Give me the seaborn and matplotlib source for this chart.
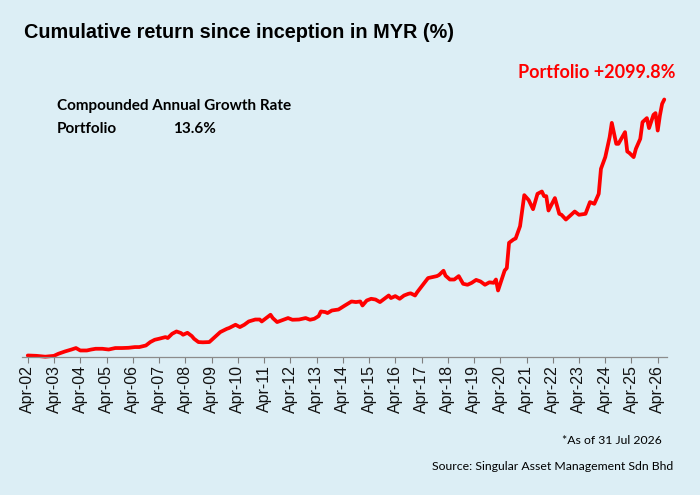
import pandas as pd
import seaborn as sns
import matplotlib.pyplot as plt
import matplotlib.dates as mdates

# cumulative return (%)
months = ['2002-04', '2002-08', '2002-12', '2003-04', '2003-06', '2003-09', '2003-12',
          '2004-02', '2004-04', '2004-07', '2004-09', '2004-11', '2005-02', '2005-05',
          '2005-08', '2005-11', '2006-02', '2006-05', '2006-07', '2006-10', '2006-12',
          '2007-02', '2007-04', '2007-07', '2007-08', '2007-10', '2007-12', '2008-02',
          '2008-03', '2008-05', '2008-07', '2008-08', '2008-10', '2008-12', '2009-03',
          '2009-05', '2009-08', '2009-11', '2009-12', '2010-03', '2010-05', '2010-07',
          '2010-09', '2010-12', '2011-02', '2011-03', '2011-05', '2011-07', '2011-08',
          '2011-10', '2011-12', '2012-03', '2012-05', '2012-08', '2012-11', '2013-01',
          '2013-03', '2013-05', '2013-06', '2013-08', '2013-09', '2013-11', '2014-02',
          '2014-05', '2014-08', '2014-10', '2014-12', '2015-01', '2015-03', '2015-05',
          '2015-07', '2015-09', '2015-11', '2016-01', '2016-02', '2016-04', '2016-06',
          '2016-08', '2016-10', '2016-11', '2017-01', '2017-02', '2017-05', '2017-07',
          '2017-09', '2017-11', '2017-12', '2018-02', '2018-03', '2018-05', '2018-07',
          '2018-09', '2018-11', '2019-01', '2019-03', '2019-05', '2019-07', '2019-09',
          '2019-11', '2020-01', '2020-02', '2020-03', '2020-06', '2020-07', '2020-08',
          '2020-10', '2020-11', '2021-01', '2021-03', '2021-05', '2021-07', '2021-09',
          '2021-11', '2021-12', '2022-01', '2022-02', '2022-05', '2022-07', '2022-08',
          '2022-10', '2022-12', '2023-02', '2023-04', '2023-07', '2023-09', '2023-11',
          '2024-01', '2024-02', '2024-04', '2024-06', '2024-07', '2024-09', '2024-10',
          '2025-01', '2025-02', '2025-03', '2025-05', '2025-06', '2025-08', '2025-09',
          '2025-11', '2025-12', '2026-02', '2026-03', '2026-04', '2026-05', '2026-06',
          '2026-07']
portfolio = [0, -3, -10, -3, 14, 33, 49,
             61, 41, 41, 49, 55, 55, 49,
             61, 61, 63, 69, 69, 82, 110,
             129, 137, 151, 143, 178, 197, 184,
             170, 186, 159, 137, 110, 108, 110,
             143, 192, 219, 225, 252, 233, 252,
             279, 295, 295, 279, 307, 334, 307,
             274, 287, 307, 293, 295, 307, 293,
             301, 323, 361, 356, 348, 369, 377,
             410, 443, 438, 443, 410, 451, 465,
             459, 438, 465, 492, 471, 487, 465,
             492, 506, 510, 492, 520, 588, 635,
             643, 651, 660, 695, 655, 623, 623,
             651, 588, 580, 596, 620, 607, 580,
             600, 596, 623, 533, 697, 717, 924,
             951, 960, 1060, 1315, 1275, 1200, 1326,
             1345, 1307, 1307, 1189, 1291, 1162, 1154,
             1115, 1148, 1181, 1154, 1162, 1258, 1244,
             1326, 1531, 1627, 1791, 1908, 1736, 1736,
             1832, 1673, 1662, 1627, 1695, 1777, 1914,
             1947, 1865, 1974, 1988, 1845, 1968, 2064,
             2099.8]

title = 'Cumulative return since inception in MYR (%)'
end_label = 'Portfolio +2099.8%'
cagr_title = 'Compounded Annual Growth Rate'
cagr_name = 'Portfolio'
cagr_value = '13.6%'
note = '*As of 31 Jul 2026'
source = 'Source: Singular Asset Management Sdn Bhd'

bg = '#DCEEF5'
lato = ['Lato', 'DejaVu Sans']

df = pd.DataFrame({'date': pd.to_datetime(months), 'ret': portfolio})

sns.set_style('white')
plt.rcParams['font.family'] = ['Liberation Sans', 'DejaVu Sans']

fig = plt.figure(figsize=(7, 4.95), dpi=100, facecolor=bg)
ax = fig.add_axes([22 / 700, 0.2794, 645 / 700, 0.532])
ax.set_facecolor(bg)

sns.lineplot(data=df, x='date', y='ret', color='#FF0000', linewidth=2.7,
             ax=ax, clip_on=False)

ax.set_xlim(pd.Timestamp('2002-01-11'), pd.Timestamp('2026-08-08'))
ax.set_ylim(-10, 2150)
ax.xaxis.set_major_locator(mdates.MonthLocator(bymonth=4))
ax.xaxis.set_major_formatter(mdates.DateFormatter('%b-%y'))
ax.tick_params(axis='x', rotation=90, labelsize=11.5, length=4, width=0.8,
               color='#7f7f7f', labelcolor='#111111', pad=2, bottom=True)
ax.set_yticks([])
ax.set_xlabel('')
ax.set_ylabel('')
for side in ['top', 'left', 'right']:
    ax.spines[side].set_visible(False)
ax.spines['bottom'].set_color('#8c8c8c')
ax.spines['bottom'].set_linewidth(0.9)

fig.text(24 / 700, 1 - 32 / 495, title, fontsize=14.3, fontweight='bold',
         va='center', ha='left', color='black')
fig.text(675 / 700, 1 - 72 / 495, end_label, fontsize=13, fontweight='bold',
         va='center', ha='right', color='#FF0000', family=lato)
fig.text(57 / 700, 1 - 106 / 495, cagr_title, fontsize=11, fontweight='bold',
         va='center', ha='left', color='black', family=lato)
fig.text(57 / 700, 1 - 129 / 495, cagr_name, fontsize=11, fontweight='bold',
         va='center', ha='left', color='black', family=lato)
fig.text(173 / 700, 1 - 129 / 495, cagr_value, fontsize=11, fontweight='bold',
         va='center', ha='left', color='black', family=lato)
fig.text(662 / 700, 1 - 441 / 495, note, fontsize=8.8, va='center', ha='right',
         color='black', family=lato)
fig.text(673 / 700, 1 - 467 / 495, source, fontsize=8.8, va='center', ha='right',
         color='black', family=lato)

fig.savefig('out.png', dpi=100, facecolor=bg)
